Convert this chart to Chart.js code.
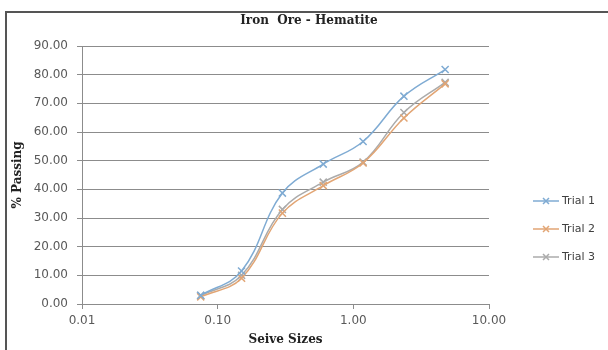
<!DOCTYPE html>
<html>
<head>
<meta charset="utf-8">
<script src="https://cdn.jsdelivr.net/npm/chart.js@4.4.1/dist/chart.umd.min.js"></script>
<style>
  html, body { margin: 0; padding: 0; background: #fff; }
  #wrap { position: relative; width: 608px; height: 350px; overflow: hidden; }
  #frame { position: absolute; left: 5px; top: 11px; width: 700px; height: 400px;
           border-left: 2px solid #555; border-top: 2px solid #555; pointer-events: none; }
  canvas { position: absolute; left: 0; top: 0; }
</style>
</head>
<body>
<div id="wrap">
  <canvas id="c" width="608" height="350"></canvas>
  <div id="frame"></div>
</div>
<script>
const chartTitle = 'Iron  Ore - Hematite';
const xTitle = 'Seive Sizes';
const yTitle = '% Passing';
const sieveSizes = [0.075, 0.15, 0.3, 0.6, 1.18, 2.36, 4.75];
const seriesNames = ['Trial 1', 'Trial 2', 'Trial 3'];
const trial1 = [3.0, 11.5, 38.7, 48.8, 56.7, 72.5, 81.8];
const trial2 = [2.5, 9.0, 31.7, 41.3, 49.2, 64.9, 76.8];
const trial3 = [3.0, 10.0, 33.0, 42.5, 49.5, 66.8, 77.3];
const xTickValues = [0.01, 0.1, 1, 10];
const xTickLabels = ['0.01', '0.10', '1.00', '10.00'];
const yTickValues = [0, 10, 20, 30, 40, 50, 60, 70, 80, 90];
const seriesColors = ['#7fabd3', '#e2a574', '#ababab'];

const allSeries = [trial1, trial2, trial3];
const datasets = allSeries.map((vals, i) => ({
  label: seriesNames[i],
  data: sieveSizes.map((s, j) => ({ x: s, y: vals[j] })),
  borderColor: seriesColors[i],
  backgroundColor: seriesColors[i],
  borderWidth: 1.5,
  pointStyle: 'crossRot',
  pointRadius: 5,
  pointBorderWidth: 1.5,
  tension: 0.4,
  fill: false,
  yAxisID: 'y'
}));

const legendPlugin = {
  id: 'sideLegend',
  afterDraw(chart) {
    const ctx = chart.ctx;
    const x0 = 533, x1 = 559, tx = 562, y0 = 201, dy = 28;
    chart.data.datasets.forEach((ds, i) => {
      const y = y0 + i * dy;
      ctx.save();
      ctx.strokeStyle = ds.borderColor;
      ctx.lineWidth = 1.5;
      ctx.beginPath(); ctx.moveTo(x0, y); ctx.lineTo(x1, y); ctx.stroke();
      const cx = (x0 + x1) / 2, r = 3;
      ctx.beginPath();
      ctx.moveTo(cx - r, y - r); ctx.lineTo(cx + r, y + r);
      ctx.moveTo(cx + r, y - r); ctx.lineTo(cx - r, y + r);
      ctx.stroke();
      ctx.fillStyle = '#404040';
      ctx.font = '11px "DejaVu Sans", sans-serif';
      ctx.textBaseline = 'middle';
      ctx.textAlign = 'left';
      ctx.fillText(ds.label, tx, y);
      ctx.restore();
    });
  }
};

const tickFont = { family: '"DejaVu Sans", sans-serif', size: 12 };
const titleFont = { family: '"DejaVu Serif", serif', size: 12, weight: 'bold' };

new Chart(document.getElementById('c'), {
  type: 'line',
  data: { datasets },
  plugins: [legendPlugin],
  options: {
    responsive: false,
    animation: false,
    layout: { padding: { top: 0, right: 0, bottom: 0, left: 10 } },
    plugins: {
      legend: { display: false },
      tooltip: { enabled: false },
      title: {
        display: true,
        text: chartTitle,
        color: '#222',
        font: titleFont,
        padding: { top: 14, bottom: 17.6 }
      }
    },
    scales: {
      x: {
        type: 'logarithmic',
        min: 0.01,
        max: 10,
        afterBuildTicks(scale) { scale.ticks = xTickValues.map(v => ({ value: v })); },
        afterFit(scale) { scale.height = 46; },
        ticks: {
          autoSkip: false,
          maxRotation: 0,
          padding: 5,
          color: '#595959',
          font: tickFont,
          callback(value) {
            const k = xTickValues.indexOf(value);
            return k >= 0 ? xTickLabels[k] : '';
          }
        },
        grid: { drawOnChartArea: false, drawTicks: true, tickLength: 5, color: '#8c8c8c' },
        border: { color: '#8c8c8c', width: 1 },
        title: { display: true, text: xTitle, color: '#222', font: titleFont, padding: { top: 2, bottom: 3 } }
      },
      y: {
        type: 'linear',
        position: 'left',
        min: 0,
        max: 90,
        afterBuildTicks(scale) { scale.ticks = yTickValues.map(v => ({ value: v })); },
        afterFit(scale) { scale.width = 72; },
        ticks: {
          padding: 9,
          color: '#595959',
          font: tickFont,
          callback(value) { return Number(value).toFixed(2); }
        },
        grid: { color: '#8c8c8c', lineWidth: 1, drawTicks: true, tickLength: 5 },
        border: { color: '#8c8c8c', width: 1 },
        title: { display: true, text: yTitle, color: '#222', font: titleFont, padding: { top: 1, bottom: 0 } }
      },
      legendSpace: {
        type: 'linear',
        position: 'right',
        display: true,
        afterFit(scale) { scale.width = 119; },
        ticks: { display: false },
        grid: { display: false },
        border: { display: false },
        title: { display: false }
      }
    }
  }
});
</script>
</body>
</html>
